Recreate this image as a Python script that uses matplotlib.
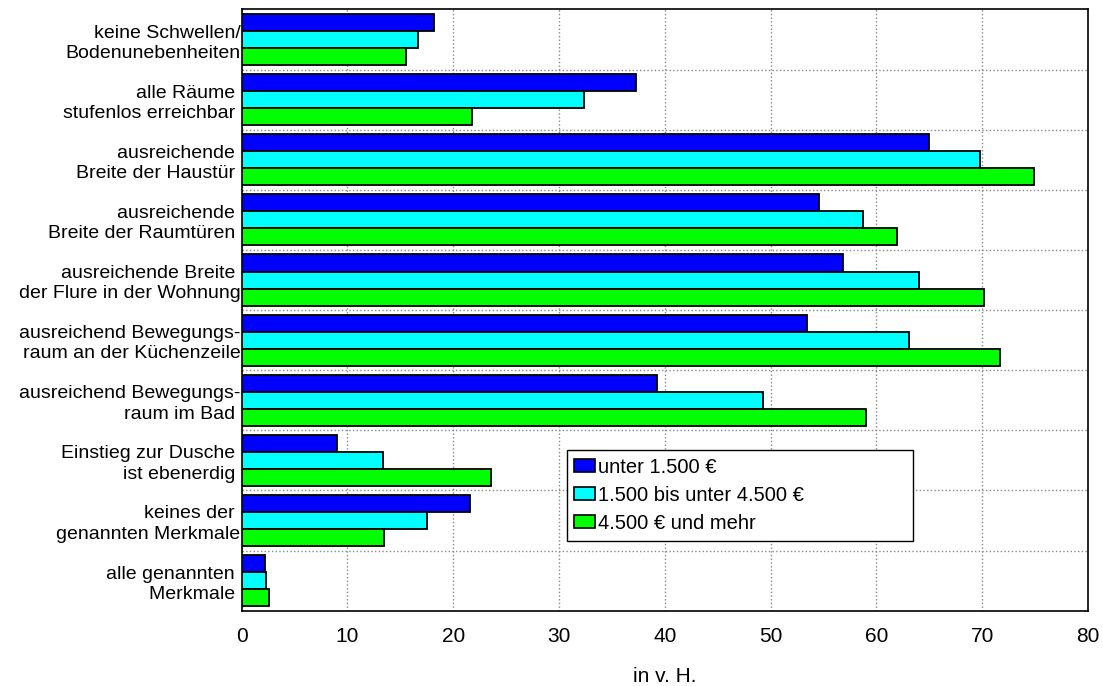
import matplotlib
matplotlib.use("Agg")
import matplotlib.pyplot as plt
import numpy as np
from matplotlib.patches import Patch

plt.rcParams['font.family'] = ['Liberation Sans', 'DejaVu Sans']

categories = [
    "keine Schwellen/\nBodenunebenheiten",
    "alle Räume \nstufenlos erreichbar ",
    "ausreichende \nBreite der Haustür ",
    "ausreichende \nBreite der Raumtüren ",
    "ausreichende Breite \nder Flure in der Wohnung",
    "ausreichend Bewegungs-\nraum an der Küchenzeile",
    "ausreichend Bewegungs-\nraum im Bad ",
    "Einstieg zur Dusche \nist ebenerdig ",
    "keines der \ngenannten Merkmale",
    "alle genannten \nMerkmale ",
]
series_names = ["unter 1.500 €", "1.500 bis unter 4.500 €", "4.500 € und mehr"]
unter_1500 = [18.2, 37.3, 65.0, 54.6, 56.8, 53.4, 39.3, 9.0, 21.6, 2.2]
mittel_1500_4500 = [16.7, 32.4, 69.8, 58.7, 64.0, 63.1, 49.3, 13.4, 17.5, 2.3]
ab_4500 = [15.5, 21.8, 74.9, 61.9, 70.2, 71.7, 59.0, 23.6, 13.5, 2.6]
x_ticks = [0, 10, 20, 30, 40, 50, 60, 70, 80]
x_label = "in v. H."

colors = ["#0000FF", "#00FFFF", "#00FF00"]
values = [unter_1500, mittel_1500_4500, ab_4500]

fig = plt.figure(figsize=(11.03, 6.86), dpi=100)
ax = fig.add_axes([0.2191, 0.1098, 0.9864 - 0.2191, 0.9862 - 0.1098])

y = np.arange(len(categories))
h = 0.283
for k, (vals, col) in enumerate(zip(values, colors)):
    ax.barh(y + (k - 1) * h, vals, height=h, color=col, edgecolor="black",
            linewidth=1.3, zorder=3)

ax.set_ylim(len(categories) - 0.5, -0.5)
ax.set_xlim(0, 80)
ax.set_xticks(x_ticks)
ax.set_xticklabels([str(t) for t in x_ticks],
                   fontfamily=['Liberation Sans Narrow', 'Liberation Sans'],
                   fontsize=15)
ax.set_yticks(y)
ax.set_yticklabels(categories, fontsize=14, linespacing=1.25)
ax.set_yticks(np.arange(0.5, len(categories) - 0.5), minor=True)
ax.tick_params(axis='y', which='both', length=0, pad=1)
ax.tick_params(axis='x', length=0, pad=12)

ax.grid(axis='x', which='major', color='#888888', linestyle=':', linewidth=1.0, zorder=0)
ax.grid(axis='y', which='minor', color='#888888', linestyle=':', linewidth=1.0, zorder=0)
ax.grid(axis='y', which='major', visible=False)

for s in ax.spines.values():
    s.set_linewidth(1.2)
    s.set_color("black")

ax.set_xlabel(x_label, fontsize=15,
              fontfamily=['Liberation Sans Narrow', 'Liberation Sans'], labelpad=15)

handles = [Patch(facecolor=c, edgecolor="black", linewidth=1.2) for c in colors]
leg = ax.legend(handles, series_names, loc="upper left",
                bbox_to_anchor=(0.384, 0.121, 0.409, 0.146), mode="expand",
                fontsize=14.5, frameon=True, fancybox=False, shadow=False,
                framealpha=1.0,
                handlelength=1.05, handleheight=0.6, handletextpad=0.15,
                borderpad=0.38, labelspacing=0.45, borderaxespad=0)
leg.get_frame().set_edgecolor("black")
leg.get_frame().set_linewidth(1.0)
leg.set_zorder(5)

fig.savefig("out.png", dpi=100)
